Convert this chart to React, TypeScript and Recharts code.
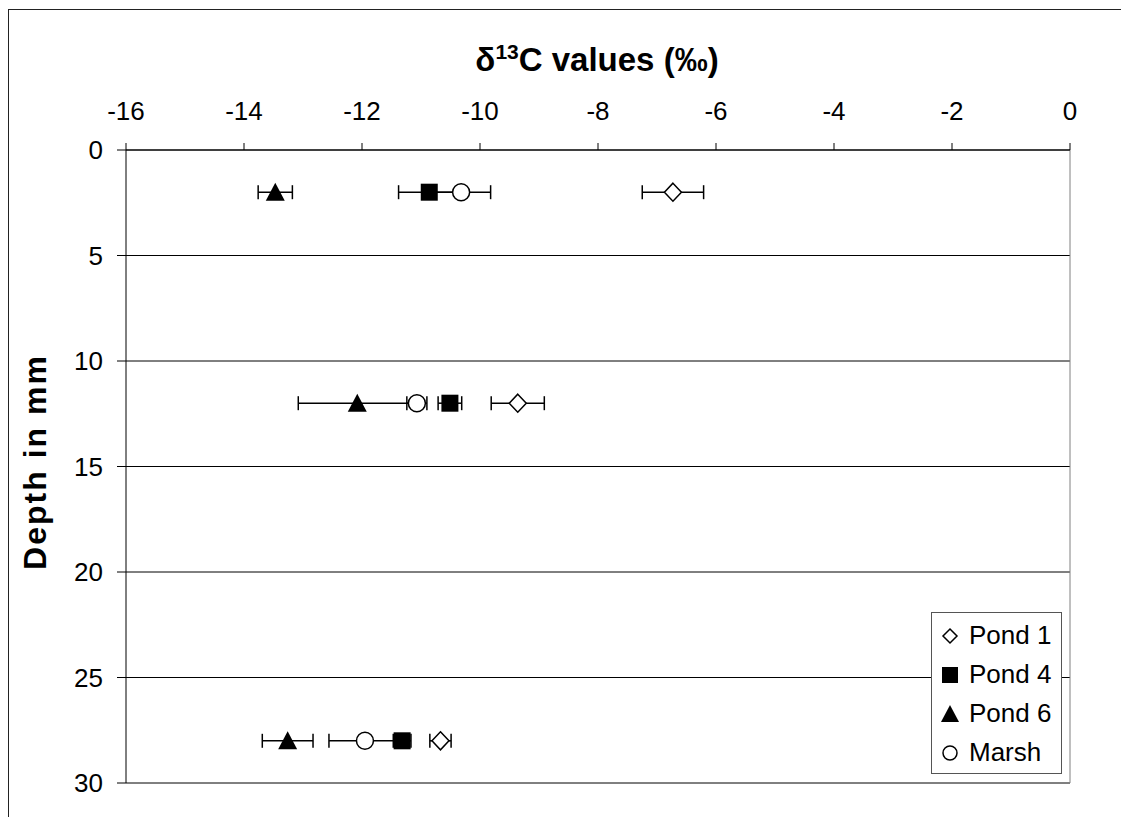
import React from "react";
import {
  CartesianGrid,
  ErrorBar,
  Legend,
  ReferenceLine,
  Scatter,
  ScatterChart,
  XAxis,
  YAxis,
} from "recharts";

// depth of each sampled layer (mm)
const DEPTHS = [2, 12, 28];

// mean δ13C per site, one value per depth, with ± spread
const POND1 = [-6.73, -9.36, -10.67];
const POND1_ERR = [0.52, 0.45, 0.18];
const POND4 = [-10.86, -10.51, -11.32];
const POND4_ERR = [0.52, 0.2, 0.15];
const POND6 = [-13.47, -12.08, -13.26];
const POND6_ERR = [0.29, 1.0, 0.43];
const MARSH = [-10.32, -11.07, -11.95];
const MARSH_ERR = [0.5, 0.17, 0.61];

const X_TICKS = [-16, -14, -12, -10, -8, -6, -4, -2, 0];
const Y_TICKS = [0, 5, 10, 15, 20, 25, 30];

const FONT = '"Liberation Sans", Arial, sans-serif';

const rows = (vals: number[], errs: number[]) =>
  vals.map((v, i) => ({ x: v, y: DEPTHS[i], err: errs[i] }));

type Pt = { cx?: number; cy?: number };

const DiamondMark = ({ cx = 0, cy = 0 }: Pt) => (
  <path
    d={`M${cx},${cy - 9}L${cx + 8.5},${cy}L${cx},${cy + 9}L${cx - 8.5},${cy}Z`}
    fill="#fff"
    stroke="#000"
    strokeWidth={1.5}
  />
);
const SquareMark = ({ cx = 0, cy = 0 }: Pt) => (
  <rect x={cx - 8.5} y={cy - 8.5} width={17} height={17} fill="#000" />
);
const TriangleMark = ({ cx = 0, cy = 0 }: Pt) => (
  <path
    d={`M${cx},${cy - 9.5}L${cx + 9.5},${cy + 8.5}L${cx - 9.5},${cy + 8.5}Z`}
    fill="#000"
  />
);
const CircleMark = ({ cx = 0, cy = 0 }: Pt) => (
  <circle cx={cx} cy={cy} r={8.5} fill="#fff" stroke="#000" strokeWidth={1.5} />
);

const LEGEND_ITEMS = [
  { name: "Pond 1", icon: "diamond" },
  { name: "Pond 4", icon: "square" },
  { name: "Pond 6", icon: "triangle" },
  { name: "Marsh", icon: "circle" },
];

function LegendIcon({ icon }: { icon: string }) {
  return (
    <svg width={18} height={18} style={{ display: "block" }}>
      {icon === "diamond" && (
        <path d="M9,2L16,9L9,16L2,9Z" fill="#fff" stroke="#000" strokeWidth={1.5} />
      )}
      {icon === "square" && <rect x={1} y={1} width={16} height={16} fill="#000" />}
      {icon === "triangle" && <path d="M9,0L18,17L0,17Z" fill="#000" />}
      {icon === "circle" && (
        <circle cx={9} cy={9} r={7} fill="#fff" stroke="#000" strokeWidth={1.5} />
      )}
    </svg>
  );
}

function SiteLegend() {
  return (
    <div
      style={{
        width: 129,
        height: 157,
        border: "1px solid #555",
        background: "#fff",
        fontFamily: FONT,
        fontSize: 26,
        color: "#000",
        paddingTop: 3,
        boxSizing: "content-box",
      }}
    >
      {LEGEND_ITEMS.map((it) => (
        <div
          key={it.name}
          style={{ display: "flex", alignItems: "center", height: 39, paddingLeft: 9 }}
        >
          <LegendIcon icon={it.icon} />
          <span style={{ marginLeft: 10, lineHeight: "39px" }}>{it.name}</span>
        </div>
      ))}
    </div>
  );
}

const renderTitle = () => (
  <text
    x={589}
    y={63}
    textAnchor="middle"
    fontFamily={FONT}
    fontSize={33}
    fontWeight="bold"
    fill="#000"
  >
    δ<tspan fontSize={21} dy={-12}>13</tspan>
    <tspan dy={12}>C values (‰)</tspan>
  </text>
);

const renderDepthLabel = () => (
  <text
    x={27}
    y={454}
    transform="rotate(-90 27 454)"
    textAnchor="middle"
    dominantBaseline="central"
    fontFamily={FONT}
    fontSize={32}
    fontWeight="bold"
    letterSpacing={2}
    fill="#000"
  >
    Depth in mm
  </text>
);

export default function App() {
  const tick = { fontFamily: FONT, fontSize: 26, fill: "#000" };
  return (
    <div style={{ position: "relative", width: 1121, height: 809 }}>
      <style>{"body{overflow:hidden}"}</style>
      <div
        style={{
          position: "absolute",
          left: 0,
          top: 1,
          width: 1121,
          height: 808,
          borderLeft: "1px solid #222",
          borderTop: "1px solid #222",
          boxSizing: "border-box",
        }}
      />
      <ScatterChart
        width={1121}
        height={809}
        margin={{ top: 82, left: 58, right: 59, bottom: 34 }}
        style={{ position: "absolute", left: 0, top: 0 }}
      >
        <CartesianGrid vertical={false} stroke="#000" strokeWidth={1} />
        <ReferenceLine x={0} stroke="#808080" strokeWidth={1} />
        <XAxis
          type="number"
          dataKey="x"
          orientation="top"
          domain={[-16, 0]}
          ticks={X_TICKS}
          height={60}
          tick={tick}
          tickSize={7}
          tickMargin={23}
          axisLine={{ stroke: "#000" }}
          tickLine={{ stroke: "#000" }}
          allowDataOverflow
          label={renderTitle}
        />
        <YAxis
          type="number"
          dataKey="y"
          domain={[0, 30]}
          reversed
          ticks={Y_TICKS}
          width={60}
          tick={tick}
          tickSize={9}
          tickMargin={14}
          axisLine={{ stroke: "#000" }}
          tickLine={{ stroke: "#000" }}
          allowDataOverflow
          label={renderDepthLabel}
        />
        <Legend
          layout="vertical"
          align="center"
          verticalAlign="middle"
          content={() => <SiteLegend />}
          wrapperStyle={{ left: 923, top: 604, width: 131, height: 161 }}
        />
        <Scatter
          name="Pond 1"
          data={rows(POND1, POND1_ERR)}
          shape={(p: Pt) => <DiamondMark {...p} />}
          isAnimationActive={false}
        >
          <ErrorBar dataKey="err" direction="x" width={7} stroke="#000" strokeWidth={1.5} />
        </Scatter>
        <Scatter
          name="Pond 4"
          data={rows(POND4, POND4_ERR)}
          shape={(p: Pt) => <SquareMark {...p} />}
          isAnimationActive={false}
        >
          <ErrorBar dataKey="err" direction="x" width={7} stroke="#000" strokeWidth={1.5} />
        </Scatter>
        <Scatter
          name="Pond 6"
          data={rows(POND6, POND6_ERR)}
          shape={(p: Pt) => <TriangleMark {...p} />}
          isAnimationActive={false}
        >
          <ErrorBar dataKey="err" direction="x" width={7} stroke="#000" strokeWidth={1.5} />
        </Scatter>
        <Scatter
          name="Marsh"
          data={rows(MARSH, MARSH_ERR)}
          shape={(p: Pt) => <CircleMark {...p} />}
          isAnimationActive={false}
        >
          <ErrorBar dataKey="err" direction="x" width={7} stroke="#000" strokeWidth={1.5} />
        </Scatter>
      </ScatterChart>
    </div>
  );
}
